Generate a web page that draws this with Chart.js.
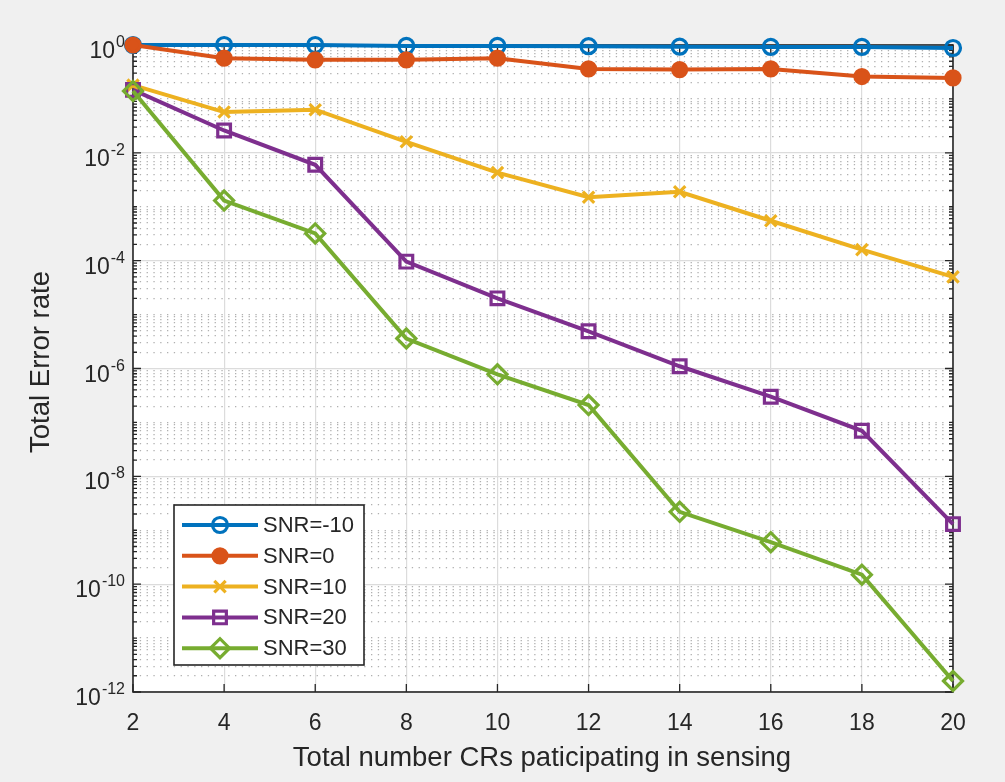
<!DOCTYPE html>
<html>
<head>
<meta charset="utf-8">
<script src="https://cdn.jsdelivr.net/npm/chart.js@4.4.1/dist/chart.umd.min.js"></script>
<style>
  html, body { margin: 0; padding: 0; background: #f0f0f0; }
  #wrap { width: 1005px; height: 782px; }
</style>
</head>
<body>
<div id="wrap"><canvas id="errChart" width="1005" height="782"></canvas></div>
<script>
// number of CRs on the x axis
const crCounts = [2, 4, 6, 8, 10, 12, 14, 16, 18, 20];

// total error rate per SNR
const snrM10 = [1, 1, 1, 0.96, 0.96, 0.95, 0.93, 0.92, 0.92, 0.88];
const snr0 = [1, 0.57, 0.53, 0.53, 0.57, 0.36, 0.35, 0.36, 0.26, 0.245];
const snr10 = [0.18, 0.057, 0.063, 0.016, 4.3e-3, 1.5e-3, 1.9e-3, 5.5e-4, 1.6e-4, 5e-5];
const snr20 = [0.147, 0.026, 6e-3, 9.6e-5, 2e-5, 4.9e-6, 1.1e-6, 3e-7, 7e-8, 1.3e-9];
const snr30 = [0.14, 1.3e-3, 3.2e-4, 3.6e-6, 7.8e-7, 2.1e-7, 2.2e-9, 6e-10, 1.5e-10, 1.6e-12];

const seriesLabels = ['SNR=-10', 'SNR=0', 'SNR=10', 'SNR=20', 'SNR=30'];
const yTickExponents = [0, -2, -4, -6, -8, -10, -12];

const FONT = '"Liberation Sans", Arial, sans-serif';
const TEXT = '#262626';

// matlab default line colours and markers
const styles = [
  { color: '#0072BD', point: 'circle', radius: 7.5, fill: false },
  { color: '#D95319', point: 'circle', radius: 7, fill: true },
  { color: '#EDB120', point: 'crossRot', radius: 8, fill: false },
  { color: '#7E2F8E', point: 'rect', radius: 9, fill: false },
  { color: '#77AC30', point: 'rectRot', radius: 9.5, fill: false },
];

const allSeries = [snrM10, snr0, snr10, snr20, snr30];

const datasets = allSeries.map((vals, i) => ({
  label: seriesLabels[i],
  data: crCounts.map((x, j) => ({ x: x, y: vals[j] })),
  borderColor: styles[i].color,
  backgroundColor: styles[i].fill ? styles[i].color : 'rgba(0,0,0,0)',
  pointBackgroundColor: styles[i].fill ? styles[i].color : 'rgba(0,0,0,0)',
  pointBorderColor: styles[i].color,
  pointStyle: styles[i].point,
  pointRadius: styles[i].radius,
  pointBorderWidth: 3.2,
  borderWidth: 4,
  tension: 0,
  clip: false,
  order: 5 - i, // later series on top, like matlab
}));

// minor log ticks: 1..9 x 10^k
function buildLogTicks() {
  const t = [];
  for (let k = -12; k < 0; k++) {
    for (let m = 1; m < 10; m++) t.push({ value: m * Math.pow(10, k) });
  }
  t.push({ value: 1 });
  return t;
}

function isMajor(v) {
  const e = Math.log10(v);
  return Math.abs(e - Math.round(e)) < 1e-6 && Math.round(e) % 2 === 0;
}

const bgPlugin = {
  id: 'bg',
  beforeDraw(chart) {
    const { ctx, chartArea: a } = chart;
    ctx.save();
    ctx.fillStyle = '#f0f0f0';
    ctx.fillRect(0, 0, chart.width, chart.height);
    ctx.fillStyle = '#ffffff';
    ctx.fillRect(a.left, a.top, a.right - a.left, a.bottom - a.top);
    ctx.restore();
  },
  beforeDatasetsDraw(chart) {
    // axes box and inward ticks (below the data)
    const { ctx, chartArea: a, scales } = chart;
    ctx.save();
    ctx.strokeStyle = TEXT;
    ctx.lineWidth = 1.6;
    ctx.strokeRect(a.left, a.top, a.right - a.left, a.bottom - a.top);
    ctx.lineWidth = 1.3;
    ctx.beginPath();
    scales.y.ticks.forEach(t => {
      const y = scales.y.getPixelForValue(t.value);
      const len = isMajor(t.value) ? 8 : 4;
      ctx.moveTo(a.left, y); ctx.lineTo(a.left + len, y);
      ctx.moveTo(a.right, y); ctx.lineTo(a.right - len, y);
    });
    crCounts.forEach(v => {
      const x = scales.x.getPixelForValue(v);
      ctx.moveTo(x, a.bottom); ctx.lineTo(x, a.bottom - 8);
      ctx.moveTo(x, a.top); ctx.lineTo(x, a.top + 8);
    });
    ctx.stroke();
    ctx.restore();
  },
  afterDraw(chart) {
    const { ctx, chartArea: a, scales } = chart;
    ctx.save();
    ctx.fillStyle = TEXT;

    // x tick labels
    ctx.font = '23px ' + FONT;
    ctx.textAlign = 'center';
    ctx.textBaseline = 'alphabetic';
    crCounts.forEach(v => {
      ctx.fillText(String(v), scales.x.getPixelForValue(v), a.bottom + 38);
    });

    // y tick labels 10^k
    yTickExponents.forEach(k => {
      const y = scales.y.getPixelForValue(Math.pow(10, k));
      const exp = String(k);
      ctx.font = '16px ' + FONT;
      const ew = ctx.measureText(exp).width;
      ctx.textAlign = 'right';
      ctx.fillText(exp, a.left - 8, y + 2);
      ctx.font = '23px ' + FONT;
      ctx.fillText('10', a.left - 8 - ew - 1, y + 13);
    });

    // axis titles
    ctx.font = '27.5px ' + FONT;
    ctx.textAlign = 'center';
    ctx.fillText('Total number CRs paticipating in sensing', 542, 766);
    ctx.save();
    ctx.translate(49, 362);
    ctx.rotate(-Math.PI / 2);
    ctx.fillText('Total Error rate', 0, 0);
    ctx.restore();

    // legend box inside the axes
    const bx = 174, by = 505, bw = 190, bh = 160;
    ctx.fillStyle = '#ffffff';
    ctx.fillRect(bx, by, bw, bh);
    ctx.strokeStyle = TEXT;
    ctx.lineWidth = 1.6;
    ctx.strokeRect(bx, by, bw, bh);
    ctx.font = '22px ' + FONT;
    ctx.textAlign = 'left';
    ctx.textBaseline = 'middle';
    chart.data.datasets.forEach((ds, i) => {
      const cy = by + 20 + i * 30.8;
      ctx.strokeStyle = ds.borderColor;
      ctx.lineWidth = 4;
      ctx.beginPath();
      ctx.moveTo(182, cy); ctx.lineTo(258, cy);
      ctx.stroke();
      ctx.lineWidth = 3.2;
      ctx.fillStyle = ds.pointBackgroundColor;
      Chart.helpers.drawPoint(ctx, {
        pointStyle: ds.pointStyle, radius: ds.pointRadius, rotation: 0, borderWidth: 3.2
      }, 220, cy);
      ctx.fillStyle = TEXT;
      ctx.fillText(ds.label, 263, cy + 1);
    });
    ctx.restore();
  }
};

new Chart(document.getElementById('errChart'), {
  type: 'line',
  data: { datasets: datasets },
  options: {
    responsive: false,
    animation: false,
    layout: { padding: { top: 45, right: 52, left: 0, bottom: 0 } },
    plugins: { legend: { display: false }, tooltip: { enabled: false } },
    scales: {
      x: {
        type: 'linear',
        min: 2,
        max: 20,
        ticks: { display: false, stepSize: 2 },
        afterBuildTicks: s => { s.ticks = crCounts.map(v => ({ value: v })); },
        afterFit: s => { s.height = 90; },
        grid: { color: '#dcdcdc', lineWidth: 1.2, drawTicks: false },
        border: { display: false },
      },
      y: {
        type: 'logarithmic',
        min: 1e-12,
        max: 1,
        ticks: { display: false },
        afterBuildTicks: s => { s.ticks = buildLogTicks(); },
        afterFit: s => { s.width = 133; },
        grid: {
          drawTicks: false,
          color: c => (c.tick && isMajor(c.tick.value)) ? '#dcdcdc' : '#b0b0b0',
          lineWidth: c => (c.tick && isMajor(c.tick.value)) ? 1.2 : 1.3,
        },
        border: {
          display: false,
          dash: c => (c.tick && !isMajor(c.tick.value)) ? [1.3, 5.5] : [],
        },
      },
    },
  },
  plugins: [bgPlugin],
});
</script>
</body>
</html>
